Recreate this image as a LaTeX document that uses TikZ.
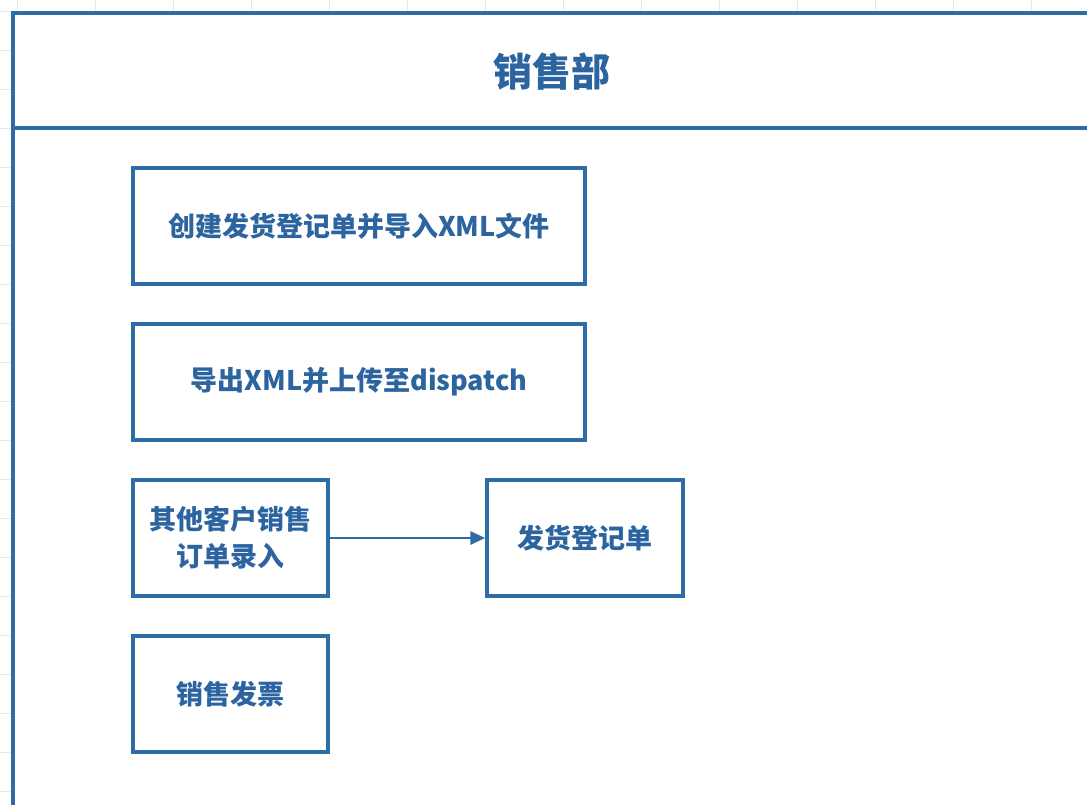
\documentclass[tikz,border=0pt]{standalone}
\usepackage{fontspec}
\setmainfont{Noto Sans CJK SC}
\usetikzlibrary{arrows.meta}
\definecolor{frameblue}{HTML}{2E6CA7}
\definecolor{txtblue}{HTML}{2C64A0}
\definecolor{gridgray}{HTML}{E6E6E6}
\begin{document}
\begin{tikzpicture}[x=1pt,y=-1pt,
  box/.style={draw=frameblue, line width=3.3pt, fill=white,
    font=\fontsize{27}{37}\selectfont\bfseries, text=txtblue,
    align=center, inner sep=0pt},
  gridline/.style={draw=gridgray, line width=0.6pt},
  conn/.style={draw=frameblue, line width=2.8pt, -{Triangle[length=15pt,width=13pt]}}]
\useasboundingbox (0,0) rectangle (1087,804);
\fill[white] (0,0) rectangle (1087,804);
% faint spreadsheet grid
\foreach \gx in {17,95,173,251,329,407,485,563,641,719,797,875,953,1031} {
  \draw[gridline] (\gx,0) -- (\gx,804);
}
\foreach \gy in {11,50,89,128,167,206,245,284,323,362,401,440,479,518,557,596,635,674,713,752,791} {
  \draw[gridline] (0,\gy) -- (1087,\gy);
}
% pool frame
\draw[frameblue, line width=3.3pt, fill=white] (13,13) rectangle (1120,840);
\draw[frameblue, line width=3.3pt] (13,128) -- (1120,128);
\node[font=\fontsize{39}{44}\selectfont\bfseries, text=txtblue] (title) at (552,72) {销售部};
% boxes
\node[box, minimum width=452pt, minimum height=116pt] (b1) at (359,226) {创建发货登记单并导入XML文件};
\node[box, minimum width=452pt, minimum height=116pt] (b2) at (359,382) {导出XML并上传至dispatch};
\node[box, minimum width=195pt, minimum height=116pt] (b3) at (230.5,538) {其他客户销售\\订单录入};
\node[box, minimum width=196pt, minimum height=116pt] (b4) at (585,538) {发货登记单};
\node[box, minimum width=195pt, minimum height=116pt] (b5) at (230.5,694) {销售发票};
% connector
\draw[conn] (b3) -- (b4);
\end{tikzpicture}
\end{document}
